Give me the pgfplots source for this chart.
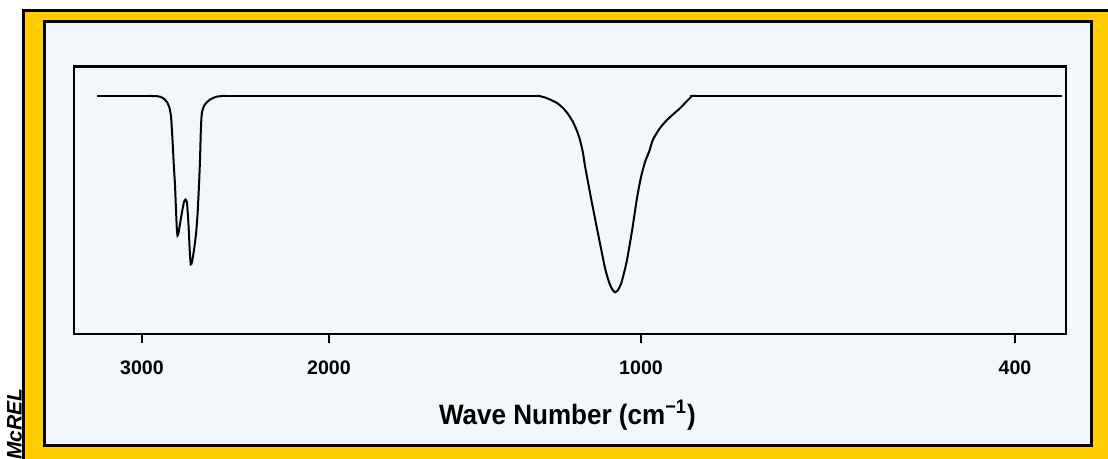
\documentclass[border=0pt]{standalone}
\usepackage{pgfplots}
\pgfplotsset{compat=1.18}
\usepackage{fontspec}
\setmainfont{Liberation Sans}
\newfontfamily\labelfont{Liberation Sans}[FakeStretch=0.93]
\definecolor{gold}{HTML}{FFCC00}
\definecolor{panel}{HTML}{F2F7FA}
\begin{document}
\begin{tikzpicture}
\useasboundingbox (0,0) rectangle (554pt,-229.5pt);
\clip (0,0) rectangle (554pt,-229.5pt);
\begin{scope}[x=0.5pt,y=-0.5pt]
  \fill[white] (0,0) rectangle (1108,459);
  \filldraw[fill=gold, draw=black, line width=1.5pt] (23.5,10.5) rectangle (1130,480);
  \filldraw[fill=panel, draw=black, line width=1.5pt] (44.2,21.3) rectangle (1091,445.7);
  \node[rotate=90, anchor=base east, inner sep=0pt, font=\fontsize{10.5}{12}\selectfont\bfseries\itshape] at (21.5,388) {McREL};
\end{scope}
\begin{axis}[
  at={(36.9pt,-167pt)}, anchor=south west,
  scale only axis, width=496.1pt, height=133.7pt,
  xmin=73.8, xmax=1066, ymin=-1, ymax=266.4,
  axis line style={line width=1.2pt, black},
  xtick={142,329,641,1015}, xticklabels={3000,2000,1000,400},
  ytick=\empty,
  xtick pos=bottom,
  tick align=outside, major tick length=4.5pt,
  xtick style={line width=1pt, black},
  /pgf/number format/assume math mode=true,
  xticklabel style={font=\fontsize{9.8}{11}\selectfont\bfseries, anchor=base, yshift=-15.5pt},
  xlabel={Wave Number (cm\textsuperscript{−1})},
  xlabel style={at={(axis description cs:0.4975,0)}, anchor=base, yshift=-45pt, font=\labelfont\fontsize{14}{16}\selectfont\bfseries},
  clip=false,
]
% flat baseline pieces
\addplot[black, line width=1pt] coordinates {(97,237) (152,237)};
\addplot[black, line width=1pt] coordinates {(222,237) (541,237)};
\addplot[black, line width=1pt] coordinates {(690,237) (1062,237)};
% C-H stretch doublet
\addplot[black, line width=1pt, smooth, tension=0.35] coordinates {
(148,237) (152,237) (156,236.9) (160,236.3) (163,235) (167,231) (169.5,225) (171,217) (171.3,213)
(172.5,193) (173.8,168) (175,148) (176,123) (176.8,105) (177.5,97.5) (178.5,100)
(180,109) (182,121) (184,131) (185.5,133.5) (187,130) (188.5,108) (189.7,83)
(190.7,68.5) (192,71) (194,83) (196,99) (197.5,118) (199,148) (200,173) (200.7,198)
(201.3,213) (202,221) (204,227) (207,231) (211,234) (216,236.2) (222,237) (226,237)
};
% C-O stretch band
\addplot[black, line width=1pt, smooth, tension=0.35] coordinates {
(535,237) (539,237) (545,235.5) (550,233.5) (557,230) (563,225) (568,219) (573,211) (577,202) (580,193) (583,180)
(585,167) (591.7,131.3) (598.3,98)
(605,65) (609,51) (612,44) (615,40.7) (618,43) (621,49) (624,60) (627,73) (632,102)
(637,135) (641,156) (645,171) (649,181) (653,193.5) (660,205) (667,213) (674,219.5) (680,224.7)
(686,231) (690,235) (692,237) (696,237)
};
\end{axis}
\end{tikzpicture}
\end{document}
